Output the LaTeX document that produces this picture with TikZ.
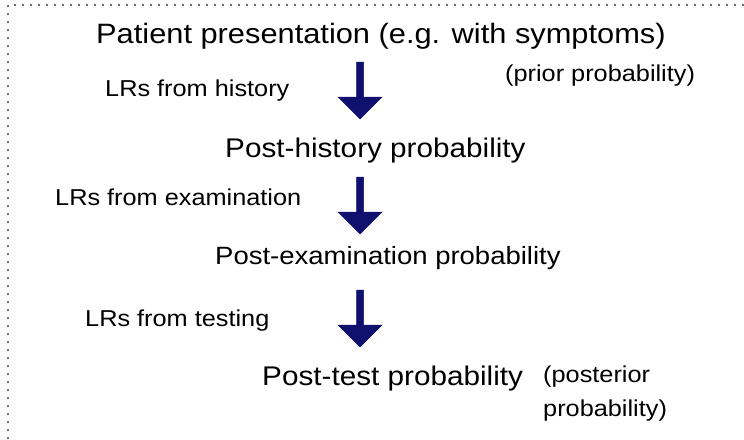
\documentclass[tikz,border=0pt]{standalone}
\usepackage{fontspec}
\setmainfont{Liberation Sans}[FakeStretch=1.1]
\definecolor{arrowblue}{RGB}{16,16,110}
\definecolor{dotgray}{RGB}{110,110,110}
\begin{document}
\begin{tikzpicture}[x=1pt,y=-1pt,
  txt/.style={inner sep=0pt,anchor=base west,text=black},
  bigtxt/.style={txt,font=\fontsize{27}{32}\selectfont},
  smalltxt/.style={txt,font=\fontsize{23}{37}\selectfont},
  blockarrow/.style={fill=arrowblue,draw=arrowblue,line width=0.5pt}]
\useasboundingbox (0,0) rectangle (744,439);
% dotted frame
\draw[dotgray,line width=1.6pt,dash pattern=on 1.6pt off 6.4pt] (8,439) -- (8,5) -- (744,5);
% texts
\node[txt,font=\fontsize{28}{32}\selectfont] (title) at (96,43) {Patient presentation (e.g. with symptoms)};
\node[smalltxt] (lrh) at (105,96) {LRs from history};
\node[smalltxt] (prior) at (505,81) {(prior probability)};
\node[bigtxt] (ph) at (225,157) {Post-history probability};
\node[smalltxt] (lre) at (55,205) {LRs from examination};
\node[bigtxt,font=\fontsize{25}{32}\selectfont] (pe) at (215,264) {Post-examination probability};
\node[smalltxt] (lrt) at (85,326) {LRs from testing};
\node[bigtxt] (pt) at (262,385) {Post-test probability};
\node[smalltxt,align=left,anchor=north west] (post) at (543,366) {(posterior\\[-3pt]probability)};
% block arrows
\newcommand{\blockarrowat}[2]{%
  \fill[blockarrow] (356.5,#1) -- (363.5,#1) -- (363.5,#2) -- (382,#2) -- (360,#2+22) -- (338,#2) -- (356.5,#2) -- cycle;}
\blockarrowat{62}{97}
\blockarrowat{177}{212}
\blockarrowat{290}{325}
\end{tikzpicture}
\end{document}
